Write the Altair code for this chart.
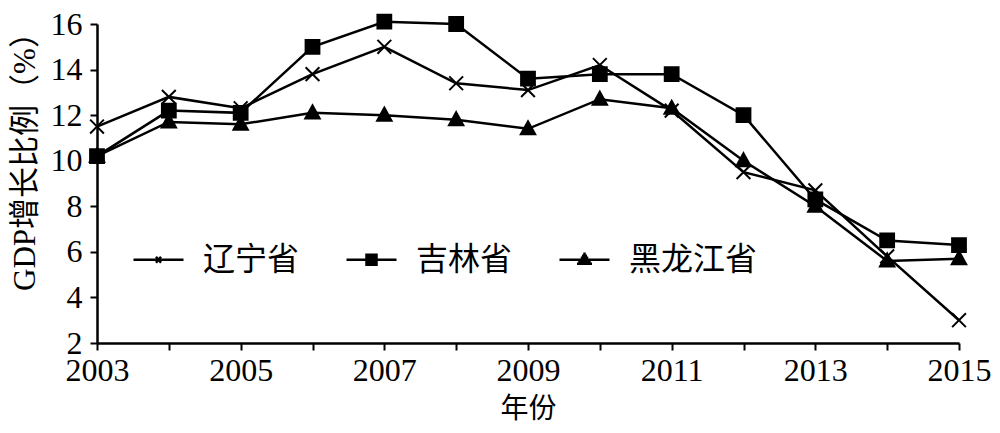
import pandas as pd
import altair as alt

# GDP growth (%) of the three north-eastern provinces
years = list(range(2003, 2016))
liaoning = [11.5, 12.8, 12.3, 13.8, 15.0, 13.4, 13.1, 14.2, 12.2, 9.5, 8.7, 5.8, 3.0]
jilin = [10.2, 12.2, 12.1, 15.0, 16.1, 16.0, 13.6, 13.8, 13.8, 12.0, 8.3, 6.5, 6.3]
heilongjiang = [10.2, 11.7, 11.6, 12.1, 12.0, 11.8, 11.4, 12.7, 12.3, 10.0, 8.0, 5.6, 5.7]
series_names = ['辽宁省', '吉林省', '黑龙江省']
y_ticks = [2, 4, 6, 8, 10, 12, 14, 16]

rows = []
for name, vals in zip(series_names, [liaoning, jilin, heilongjiang]):
    for yr, v in zip(years, vals):
        rows.append({'year': yr, 'value': v, 'series': name})
df = pd.DataFrame(rows)

W, H = 862, 319

# marker shapes (x-cross, square, triangle) as custom paths
marker_paths = [
    'M-1,-1L1,1M-1,1L1,-1',
    'M-1,-1H1V1H-1Z',
    'M0,-1.1L1.05,0.8H-1.05Z',
]
# legend symbols: a line with the marker in the middle, drawn with strokes only
legend_paths = [
    'M-1,0H1M-0.1,-0.12L0.1,0.12M-0.1,0.12L0.1,-0.12',
    'M-1,0H1M-0.25,-0.2H0.25M-0.25,-0.12H0.25M-0.25,-0.04H0.25'
    'M-0.25,0.04H0.25M-0.25,0.12H0.25M-0.25,0.2H0.25',
    'M-1,0H1M-0.3,0.16H0.3M-0.25,0.08H0.25M-0.2,0H0.2M-0.15,-0.08H0.15'
    'M-0.1,-0.16H0.1M-0.05,-0.24H0.05',
]

serif = "Liberation Serif, 'Noto Sans CJK SC'"
x_scale = alt.Scale(domain=[2003, 2015], nice=False, zero=False)
y_scale = alt.Scale(domain=[2, 16], nice=False, zero=False)

# zindex=1 keeps the axis lines above the view background
x_enc = alt.X('year:Q', scale=x_scale,
              axis=alt.Axis(values=years,
                            labelExpr="datum.value % 2 == 1 ? '' + datum.value : ''",
                            domain=True, ticks=True, zindex=1,
                            tickSize=7, tickWidth=2, tickColor='black',
                            domainWidth=2.5, domainColor='black',
                            labelPadding=5, labelFlush=False,
                            labelFont='Liberation Serif', labelFontSize=32,
                            title='年份', titleFont='Noto Sans CJK SC',
                            titleFontSize=28, titleFontWeight='normal',
                            titlePadding=9, grid=False))
y_enc = alt.Y('value:Q', scale=y_scale,
              axis=alt.Axis(values=y_ticks,
                            domain=True, ticks=True, zindex=1,
                            tickSize=7, tickWidth=2, tickColor='black',
                            domainWidth=2.5, domainColor='black',
                            labelPadding=8, labelFlush=False,
                            labelFont='Liberation Serif', labelFontSize=32,
                            title='GDP增长比例（%）', titleFont=serif,
                            titleFontSize=31, titleFontWeight='normal',
                            titleAngle=270, titleX=-72, titleY=H / 2 - 30,
                            titleBaseline='middle', grid=False))

base = alt.Chart(df)

lines = base.mark_line(color='black', strokeWidth=2.5).encode(
    x=x_enc, y=y_enc, detail='series:N')

points = base.mark_point(filled=True, fill='black', stroke='black',
                         strokeWidth=2, opacity=1, size=190).encode(
    x=x_enc, y=y_enc,
    shape=alt.Shape('series:N',
                    scale=alt.Scale(domain=series_names, range=marker_paths),
                    legend=None))

legend_layer = base.transform_filter('false').mark_point(
    filled=False, stroke='black', strokeWidth=2.5,
    opacity=1, size=2500).encode(
    x=x_enc, y=y_enc,
    shape=alt.Shape('series2:N',
                    scale=alt.Scale(domain=series_names, range=legend_paths),
                    legend=alt.Legend(orient='none', direction='horizontal',
                                      legendX=35, legendY=209, title=None,
                                      symbolSize=2500, symbolStrokeWidth=2.5,
                                      symbolStrokeColor='black',
                                      labelFont='Noto Sans CJK SC',
                                      labelFontSize=32, labelColor='black',
                                      labelOffset=18, columnPadding=41,
                                      padding=0)))

chart = alt.layer(lines, points, legend_layer).resolve_scale(
    shape='independent'
).properties(
    width=W, height=H,
    padding={'left': 89, 'top': 16, 'right': 33, 'bottom': 90},
    autosize=alt.AutoSizeParams(type='none'),
    background='white'
).configure_view(
    stroke=None
).configure_axis(
    labelColor='black', titleColor='black'
)

chart.save("out.html", embed_options={"renderer": "svg", "actions": False})
